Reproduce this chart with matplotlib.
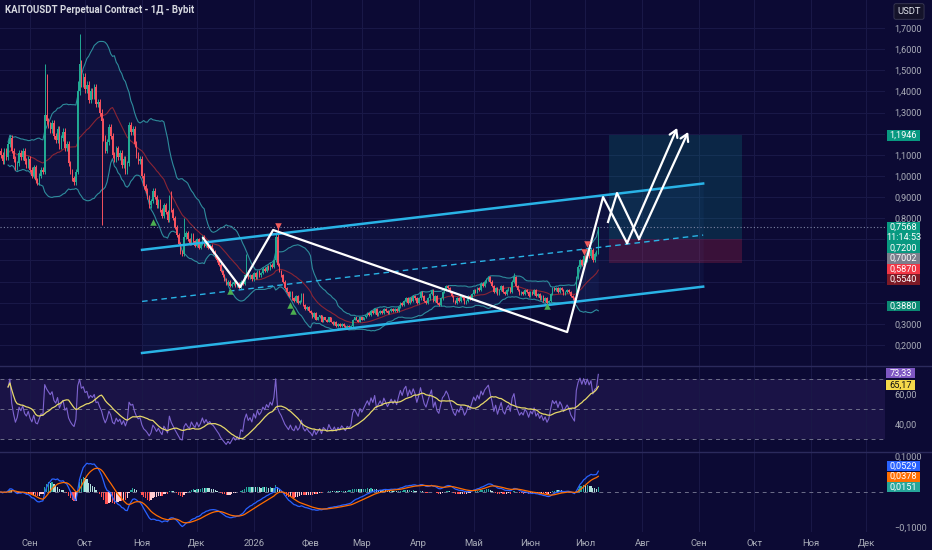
import matplotlib
matplotlib.use('Agg')
import matplotlib.pyplot as plt
import numpy as np
import pandas as pd
from matplotlib.patches import Rectangle

plt.rcParams['font.family'] = ['Roboto', 'DejaVu Sans']

# ---------------- DATA ----------------
base_date = pd.Timestamp('2025-09-01')
first_day = -16          # first candle: 2025-08-16
first_open = 1.12
closes = [
    1.10, 1.07, 1.12, 1.09, 1.15, 1.18, 1.12, 1.08,
    1.04, 1.06, 1.11, 1.09, 1.12, 1.07, 1.05, 1.08,
    1.03, 1.00, 1.04, 0.98, 0.97, 1.00, 1.03, 1.02,
    1.29, 1.26, 1.24, 1.22, 1.25, 1.19, 1.17, 1.22,
    1.14, 1.18, 1.21, 1.13, 1.15, 1.06, 1.02, 0.99,
    0.97, 1.02, 1.40, 1.53, 1.44, 1.47, 1.41, 1.43,
    1.36, 1.40, 1.38, 1.42, 1.34, 1.35, 1.30, 1.26,
    1.18, 1.12, 1.16, 1.23, 1.19, 1.10, 1.08, 1.13,
    1.09, 1.11, 1.05, 1.08, 1.02, 1.06, 1.24, 1.21,
    1.22, 1.15, 1.10, 1.07, 1.08, 1.00, 0.95, 0.93,
    0.90, 0.86, 0.88, 0.93, 0.90, 0.86, 0.88, 0.84,
    0.81, 0.86, 0.83, 0.79, 0.90, 0.84, 0.80, 0.76,
    0.72, 0.68, 0.64, 0.63, 0.71, 0.73, 0.70, 0.68,
    0.72, 0.69, 0.67, 0.70, 0.66, 0.68, 0.71, 0.67,
    0.69, 0.66, 0.67, 0.65, 0.64, 0.62, 0.60, 0.58,
    0.55, 0.53, 0.51, 0.49, 0.50, 0.48, 0.49, 0.50,
    0.48, 0.49, 0.47, 0.50, 0.49, 0.53, 0.55, 0.52,
    0.53, 0.51, 0.54, 0.52, 0.55, 0.53, 0.54, 0.56,
    0.55, 0.57, 0.56, 0.58, 0.57, 0.60, 0.71, 0.58,
    0.55, 0.53, 0.50, 0.47, 0.45, 0.43, 0.45, 0.42,
    0.41, 0.43, 0.40, 0.41, 0.44, 0.39, 0.37, 0.38,
    0.36, 0.35, 0.33, 0.35, 0.32, 0.33, 0.34, 0.31,
    0.33, 0.32, 0.31, 0.33, 0.31, 0.30, 0.31, 0.29,
    0.30, 0.29, 0.30, 0.29, 0.28, 0.29, 0.285, 0.29,
    0.32, 0.33, 0.32, 0.31, 0.33, 0.32, 0.33, 0.34,
    0.35, 0.34, 0.36, 0.35, 0.37, 0.34, 0.35, 0.36,
    0.35, 0.37, 0.36, 0.35, 0.36, 0.37, 0.36, 0.37,
    0.36, 0.38, 0.40, 0.39, 0.41, 0.42, 0.40, 0.42,
    0.41, 0.43, 0.42, 0.40, 0.42, 0.45, 0.43, 0.41,
    0.40, 0.42, 0.44, 0.46, 0.41, 0.43, 0.40, 0.39,
    0.42, 0.45, 0.46, 0.48, 0.47, 0.45, 0.43, 0.41,
    0.40, 0.42, 0.41, 0.43, 0.42, 0.40, 0.41, 0.43,
    0.42, 0.44, 0.46, 0.45, 0.47, 0.46, 0.49, 0.48,
    0.50, 0.51, 0.52, 0.50, 0.48, 0.45, 0.47, 0.44,
    0.46, 0.48, 0.45, 0.44, 0.46, 0.47, 0.45, 0.50,
    0.52, 0.48, 0.46, 0.44, 0.45, 0.44, 0.46, 0.45,
    0.43, 0.45, 0.44, 0.46, 0.43, 0.44, 0.42, 0.43,
    0.41, 0.42, 0.40, 0.41, 0.44, 0.47, 0.46, 0.47,
    0.45, 0.47, 0.46, 0.44, 0.45, 0.46, 0.45, 0.43,
    0.42, 0.41, 0.52, 0.57, 0.60, 0.58, 0.62, 0.60,
    0.64, 0.62, 0.65, 0.60, 0.63, 0.64, 0.7568,
]
# notable wicks: day -> value
spike_highs = {8: 1.53, 9: 1.48, 26: 1.45, 27: 1.67, 77: 0.93, 84: 0.80,
               118: 0.63, 134: 0.73, 135: 0.76, 264: 0.54, 310: 0.76}
spike_lows = {39: 0.77}
wick_pad = 0.012

# channel drawing (day, price)
chan_days = [61.1, 367.2]
chan_upper = [0.650, 0.964]
chan_lower = [0.162, 0.476]
# white zig-zag projections (day, price)
path_a_days = [94.4, 114.6, 132.6, 293.0, 312.6, 325.7, 353.0]
path_a_prices = [0.706, 0.474, 0.744, 0.261, 0.900, 0.682, 1.227]
path_b_days = [315.3, 320.2, 332.2, 359.0]
path_b_prices = [0.782, 0.919, 0.701, 1.208]
# long position tool
pos_days = [315.9, 388.4]
pos_entry, pos_stop, pos_target = 0.7002, 0.5870, 1.1946
last_price = 0.7568
# signal triangles (day, price)
up_tri_days = [67, 109, 142, 143.5, 282]
up_tri_prices = [0.782, 0.455, 0.389, 0.36, 0.384]
dn_tri_days = [135, 302, 304]
dn_tri_prices = [0.763, 0.64, 0.678]

month_labels = ['Сен', 'Окт', 'Ноя', 'Дек', '2026', 'Фев', 'Мар', 'Апр', 'Май',
                'Июн', 'Июл', 'Авг', 'Сен', 'Окт', 'Ноя', 'Дек']
month_starts = pd.date_range('2025-09-01', '2026-12-01', freq='MS')

grid_prices = [0.2, 0.3, 0.4, 0.5, 0.6, 0.7, 0.8, 0.9, 1.0, 1.1, 1.2, 1.3, 1.4, 1.5, 1.6, 1.7]
# scale labels that stay visible (others are covered by value tags)
price_ticks = [0.2, 0.3, 0.8, 0.9, 1.0, 1.1, 1.3, 1.4, 1.5, 1.6, 1.7]
rsi_ticks = [40, 60]
macd_ticks = [-0.1, 0.1]

# right-scale value tags: text, colour, text colour
price_tags = [('1,1946', '#089981', 'white'),
              ('0,7200', '#089981', 'white'),
              ('0,7002', '#7b7e8c', 'white'),
              ('0,5870', '#f23645', 'white'),
              ('0,5540', '#7d1a26', 'white'),
              ('0,3880', '#0b8a74', 'white')]
last_tag = ('0,7568', '11:14:53', '#089981')
rsi_tags = [('73,33', '#7e57c2', 'white'), ('65,17', '#f5d94a', '#111111')]
macd_tags = [('0,0529', '#2962ff', 'white'), ('0,0378', '#ff6d00', 'white'),
             ('0,0151', '#26a69a', 'white')]
# layout: stacked tag centres in pixels from top (TradingView shifts tags apart)
price_tag_ypx = [135.5, 248, 258.5, 269, 279.5, 306]
last_tag_ypx = (222, 243)
rsi_tag_ypx = [373, 385]
macd_tag_ypx = [466, 476.5, 487]

# ---------------- COMPUTE ----------------
c = pd.Series(closes, dtype=float)
days = np.arange(first_day, first_day + len(c))
o = c.shift(1).fillna(first_open)
hi = np.maximum(o, c) * (1 + wick_pad)
lo = np.minimum(o, c) * (1 - wick_pad)
for d, v in spike_highs.items():
    hi[d - first_day] = v
for d, v in spike_lows.items():
    lo[d - first_day] = v

basis = c.rolling(20, min_periods=5).mean()
sd = c.rolling(20, min_periods=5).std(ddof=0)
bb_up = basis + 2 * sd
bb_lo = basis - 2 * sd

# Wilder RSI(14), seeded by running mean for the first bars
delta = c.diff().fillna(0).values
g = np.clip(delta, 0, None)
l = np.clip(-delta, 0, None)
ag = np.zeros(len(c)); al = np.zeros(len(c))
for i in range(1, len(c)):
    if i <= 14:
        ag[i] = g[1:i + 1].mean(); al[i] = l[1:i + 1].mean()
    else:
        ag[i] = (ag[i - 1] * 13 + g[i]) / 14; al[i] = (al[i - 1] * 13 + l[i]) / 14
rsi = pd.Series(100 - 100 / (1 + ag / np.where(al == 0, 1e-9, al)))
rsi[:4] = np.nan
rsi_ma = rsi.rolling(14, min_periods=1).mean()

ema12 = c.ewm(span=12, adjust=False).mean()
ema26 = c.ewm(span=26, adjust=False).mean()
macd = ema12 - ema26
signal = macd.ewm(span=9, adjust=False).mean()
hist = macd - signal

# ---------------- STYLE ----------------
BG = '#0c0a34'
GRID = '#1a1948'
TXT = '#a9acb8'
W, H = 932, 550
fig = plt.figure(figsize=(W / 100, H / 100), dpi=100, facecolor=BG)

right = 885 / W
def mk(top_px, bot_px):
    return fig.add_axes([0, 1 - bot_px / H, right, (bot_px - top_px) / H], facecolor=BG)

ax = mk(0, 366)
ar = mk(366, 452)
am = mk(452, 532)

xlim = (-16.4, 466.4)
month_pos = [(m - base_date).days for m in month_starts]
for a in (ax, ar, am):
    a.set_xlim(*xlim)
    for s in a.spines.values():
        s.set_visible(False)
    a.yaxis.tick_right()
    a.tick_params(axis='y', length=0, pad=7, labelsize=6.6, labelcolor=TXT)
    a.tick_params(axis='x', length=0)
    a.set_xticks(month_pos)
    a.grid(True, axis='x', color=GRID, lw=0.7)
    a.set_axisbelow(True)
for a in (ax, ar):
    a.set_xticklabels([])
am.set_xticklabels(month_labels, fontsize=6.8, color=TXT)
am.tick_params(axis='x', pad=5)

fmt = lambda v: f'{v:.4f}'.replace('.', ',').replace('-', '−')

# main panel
ax.set_ylim(0.1004, 1.8325)
ax.set_yticks(price_ticks)
ax.set_yticklabels([fmt(v) for v in price_ticks])
for v in grid_prices:
    ax.axhline(v, color=GRID, lw=0.7, zorder=0)

# bollinger
ax.fill_between(days, bb_lo, bb_up, color='#2b4f9a', alpha=0.10, lw=0, zorder=1)
ax.plot(days, bb_up, color='#2e8c9c', lw=0.8, zorder=2)
ax.plot(days, bb_lo, color='#2e8c9c', lw=0.8, zorder=2)
ax.plot(days, basis, color='#8a2434', lw=0.8, zorder=2)

# channel
ax.fill_between(chan_days, chan_lower, chan_upper, color='#2f6fc0', alpha=0.08, lw=0, zorder=1)
ax.plot(chan_days, chan_upper, color='#29b3e6', lw=1.8, zorder=4)
ax.plot(chan_days, chan_lower, color='#29b3e6', lw=1.8, zorder=4)
ax.plot(chan_days, [(a + b) / 2 for a, b in zip(chan_upper, chan_lower)],
        color='#29b3e6', lw=1.0, ls=(0, (4, 3)), zorder=4)

# position tool
ax.fill_between(pos_days, pos_entry, pos_target, color='#0b8a8a', alpha=0.22, lw=0, zorder=1)
ax.fill_between(pos_days, pos_stop, pos_entry, color='#c0284a', alpha=0.25, lw=0, zorder=1)

# candles
up = c >= o
col = np.where(up, '#22ab94', '#f7525f')
ax.vlines(days, lo, hi, colors=col, lw=0.7, zorder=3)
ax.bar(days, np.maximum(np.abs(c - o), 0.004), bottom=np.minimum(o, c), width=0.75,
       color=col, lw=0, zorder=3)

# last price dotted line
ax.axhline(last_price, color='#7f86a6', lw=0.8, ls=(0, (1, 2)), zorder=2)

# zigzags
ax.plot(path_a_days[:-1], path_a_prices[:-1], color='white', lw=1.6, zorder=5)
ax.plot(path_b_days[:-1], path_b_prices[:-1], color='white', lw=1.6, zorder=5)
for pd_, pp in ((path_a_days, path_a_prices), (path_b_days, path_b_prices)):
    ax.annotate('', xy=(pd_[-1], pp[-1]), xytext=(pd_[-2], pp[-2]),
                arrowprops=dict(arrowstyle='->,head_length=0.5,head_width=0.3', color='white',
                                lw=1.6, shrinkA=0, shrinkB=0), zorder=5)

# triangles
ax.scatter(up_tri_days, up_tri_prices, marker='^', s=22, color='#4caf50', zorder=6, lw=0)
ax.scatter(dn_tri_days, dn_tri_prices, marker='v', s=22, color='#f25c5c', zorder=6, lw=0)

# title
ax.text(0.006, 0.972, 'KAITOUSDT Perpetual Contract - 1Д - Bybit', transform=ax.transAxes,
        fontsize=6.9, color='#d6d8e0', fontweight='bold', va='center', ha='left')

# RSI panel
ar.set_ylim(21.3, 78.7)
ar.set_yticks(rsi_ticks)
ar.set_yticklabels(['40,00', '60,00'])
ar.axhspan(30, 70, color='#7e57c2', alpha=0.13, lw=0, zorder=0)
for v in (30, 50, 70):
    ar.axhline(v, color='#6e6f8a', lw=0.7, ls=(0, (4, 4)), zorder=1)
ar.plot(days, rsi, color='#7e64d0', lw=0.8, zorder=3)
ar.plot(days, rsi_ma, color='#e6d86a', lw=0.9, zorder=4)

# MACD panel
am.set_ylim(-0.1127, 0.1127)
am.set_yticks(macd_ticks)
am.set_yticklabels([fmt(v) for v in macd_ticks])
am.axhline(0, color='#6e6f8a', lw=0.7, ls=(0, (4, 4)), zorder=1)
hprev = hist.shift(1).fillna(0)
hcol = np.where(hist >= 0, np.where(hist >= hprev, '#26a69a', '#b2dfdb'),
                np.where(hist < hprev, '#ff5252', '#ffcdd2'))
am.bar(days, hist, width=0.7, color=hcol, lw=0, zorder=2)
am.plot(days, macd, color='#2962ff', lw=0.9, zorder=3)
am.plot(days, signal, color='#ff6d00', lw=0.9, zorder=3)

# right axis tags (drawn in figure pixel space, on top of tick labels)
def ptag(lines, y0, y1, bg, fg, x0=887, x1=920):
    fig.add_artist(Rectangle((x0 / W, 1 - y1 / H), (x1 - x0) / W, (y1 - y0) / H,
                             transform=fig.transFigure, fc=bg, ec='none', zorder=20))
    n = len(lines)
    for k, t in enumerate(lines):
        yc = y0 + (y1 - y0) * (k + 0.5) / n
        fig.text((x0 + x1) / 2 / W, 1 - yc / H, t, fontsize=6.6, color=fg,
                 ha='center', va='center', zorder=21)

for (t, bg, fg), yc in zip(price_tags, price_tag_ypx):
    ptag([t], yc - 5.2, yc + 5.2, bg, fg)
ptag([last_tag[0], last_tag[1]], last_tag_ypx[0], last_tag_ypx[1], last_tag[2], 'white')
for (t, bg, fg), yc in zip(rsi_tags, rsi_tag_ypx):
    ptag([t], yc - 4.6, yc + 4.6, bg, fg, 886, 915)
for (t, bg, fg), yc in zip(macd_tags, macd_tag_ypx):
    ptag([t], yc - 5.0, yc + 5.0, bg, fg)

# USDT button
fig.text(909 / W, 1 - 11.5 / H, 'USDT', fontsize=6.8, color='#e0e3eb', ha='center', va='center',
         bbox=dict(boxstyle='round,pad=0.35,rounding_size=0.2', fc='#14132a', ec='#3b3b55', lw=0.6))

# panel separators
for ypx in (366, 452):
    fig.add_artist(plt.Line2D([0, 1], [1 - ypx / H] * 2, color='#2b2a5c', lw=1.0))

fig.savefig('out.png', dpi=100, facecolor=BG)
